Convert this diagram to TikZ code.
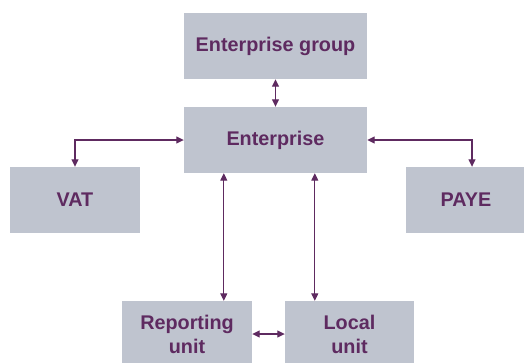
\documentclass[tikz,border=0pt]{standalone}
\usepackage{fontspec}
\setmainfont{Liberation Sans}
\usetikzlibrary{arrows.meta}
\definecolor{boxfill}{HTML}{BFC4CF}
\definecolor{plum}{HTML}{5E2A60}
\begin{document}
\begin{tikzpicture}[x=1pt,y=-1pt,
  box/.style={fill=boxfill, draw=none, inner sep=0pt, align=center,
    text=plum, font=\fontsize{19.8}{24}\selectfont\bfseries},
  link/.style={draw=plum, line width=1.1pt, {Triangle[length=7.5pt,width=7pt]}-{Triangle[length=7.5pt,width=7pt]}}]
\useasboundingbox (0,0) rectangle (524,362);
\node[box, minimum width=183pt, minimum height=66pt] (eg) at (275.5,46) {Enterprise group};
\node[box, minimum width=183pt, minimum height=66pt] (ent) at (275.5,140) {Enterprise};
\node[box, minimum width=130pt, minimum height=66pt] (vat) at (75,200) {VAT};
\node[box, minimum width=120pt, minimum height=66pt] (paye) at (466,200) {PAYE};
\node[box, minimum width=130pt, minimum height=66pt] (ru) at (187,334) {Reporting\\unit};
\node[box, minimum width=129pt, minimum height=66pt] (lu) at (349.5,334) {Local\\unit};
\draw[link] (eg.south) -- (ent.north);
\draw[link] (ent.west) -| (vat.north);
\draw[link] (ent.east) -| ([xshift=6pt]paye.north);
\draw[link] (ent.south west) ++(40,0) coordinate (a1) (a1) -- (a1 |- ru.north);
\draw[link] (ent.south west) ++(131,0) coordinate (a2) (a2) -- (a2 |- lu.north);
\draw[link] (ru.east |- 0,334) -- (lu.west |- 0,334);
\end{tikzpicture}
\end{document}
